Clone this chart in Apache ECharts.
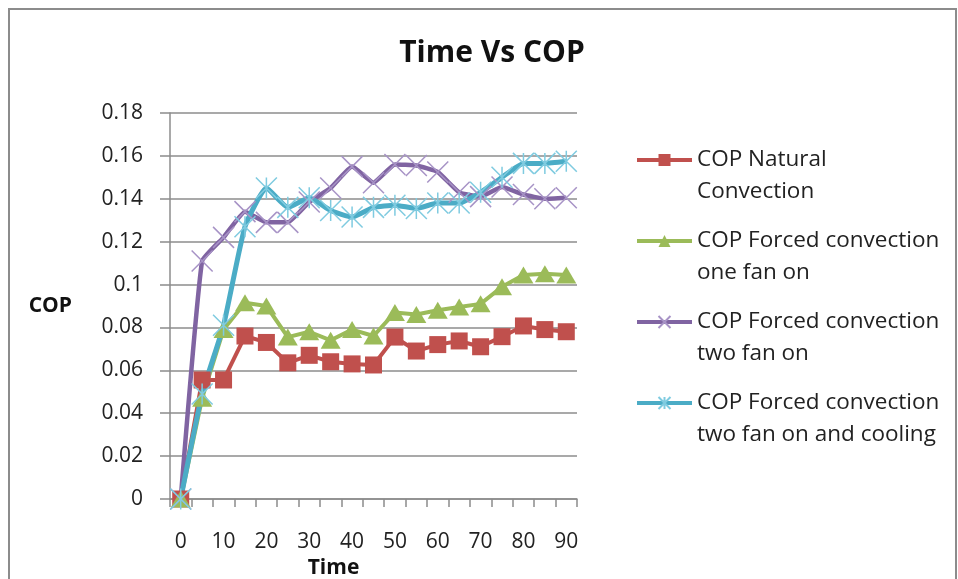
<!DOCTYPE html>
<html>
<head>
<meta charset="utf-8">
<script src="https://cdn.jsdelivr.net/npm/echarts@6/dist/echarts.min.js"></script>
<style>
  html, body { margin: 0; padding: 0; background: #fff; overflow: hidden; }
  #frame { position: absolute; left: 8px; top: 8px; width: 945px; height: 600px; border: 2px solid #8c8c8c; border-bottom: none; }
  #main { position: absolute; left: 0; top: 0; width: 958px; height: 579px; }
</style>
</head>
<body>
<div id="frame"></div>
<div id="main"></div>
<script>
  // time in minutes
  var times = ['0', '5', '10', '15', '20', '25', '30', '35', '40', '45', '50', '55', '60', '65', '70', '75', '80', '85', '90'];
  var yTicks = [0, 0.02, 0.04, 0.06, 0.08, 0.1, 0.12, 0.14, 0.16, 0.18];

  var copNatural = [0, 0.0555, 0.0555, 0.076, 0.073, 0.0635, 0.067, 0.064, 0.063, 0.0625, 0.0755, 0.069, 0.072, 0.0737, 0.071, 0.0757, 0.0807, 0.079, 0.078];
  var copOneFan = [0, 0.047, 0.079, 0.0915, 0.09, 0.0755, 0.078, 0.074, 0.079, 0.076, 0.087, 0.086, 0.088, 0.0895, 0.091, 0.099, 0.1045, 0.105, 0.1045];
  var copTwoFan = [0, 0.111, 0.122, 0.134, 0.129, 0.129, 0.1385, 0.145, 0.155, 0.1475, 0.156, 0.1555, 0.1525, 0.143, 0.141, 0.1455, 0.142, 0.14, 0.1405];
  var copTwoFanCooling = [0, 0.049, 0.081, 0.127, 0.145, 0.136, 0.1405, 0.1345, 0.1315, 0.136, 0.137, 0.1355, 0.138, 0.138, 0.143, 0.15, 0.1565, 0.1565, 0.1575];

  var seriesNames = [
    'COP Natural Convection',
    'COP Forced convection one fan on',
    'COP Forced convection two fan on',
    'COP Forced convection two fan on and cooling'
  ];
  // blank first line keeps the icon level with the first text line
  var legendLabels = {
    'COP Natural Convection': ' \nCOP Natural\nConvection',
    'COP Forced convection one fan on': ' \nCOP Forced convection\none fan on',
    'COP Forced convection two fan on': ' \nCOP Forced convection\ntwo fan on',
    'COP Forced convection two fan on and cooling': ' \nCOP Forced convection\ntwo fan on and cooling'
  };

  var crossPath = 'path://M0,0L10,10M10,0L0,10';
  var starPath = 'path://M0,0L10,10M10,0L0,10M5,0L5,10';
  var font = 'Open Sans';

  var myChart = echarts.init(document.getElementById('main'));
  var option = {
    animation: false,
    title: {
      text: 'Time Vs COP',
      left: 487,
      top: 33,
      textAlign: 'center',
      textStyle: { fontFamily: font, fontSize: 30, fontWeight: 'bold', color: '#111' }
    },
    legend: {
      data: seriesNames,
      orient: 'vertical',
      left: 635,
      top: 112,
      padding: 0,
      itemGap: -15,
      itemWidth: 55,
      itemHeight: 15,
      lineStyle: { width: 4 },
      formatter: function (name) { return legendLabels[name]; },
      textStyle: { fontFamily: font, fontSize: 22.5, color: '#222', lineHeight: 32 }
    },
    grid: { left: 170, right: 381, top: 113, bottom: 80, outerBoundsMode: 'none' },
    xAxis: {
      type: 'category',
      data: times,
      boundaryGap: true,
      name: 'Time',
      nameLocation: 'middle',
      nameGap: 56,
      nameTextStyle: { fontFamily: font, fontSize: 21, fontWeight: 'bold', color: '#111', padding: [0, 80, 0, 0] },
      axisLine: { lineStyle: { color: '#8c8c8c', width: 1.5 } },
      axisTick: { show: true, length: 8, interval: 0, lineStyle: { color: '#8c8c8c', width: 1.5 } },
      axisLabel: { interval: 1, margin: 33, fontFamily: font, fontSize: 21, color: '#222' }
    },
    yAxis: {
      type: 'value',
      min: yTicks[0],
      max: yTicks[yTicks.length - 1],
      interval: 0.02,
      name: 'COP',
      nameLocation: 'middle',
      nameRotate: 0,
      nameGap: 98,
      nameTextStyle: { fontFamily: font, fontSize: 21, fontWeight: 'bold', color: '#111' },
      axisLine: { show: true, lineStyle: { color: '#8c8c8c', width: 1.5 } },
      axisTick: { show: true, length: 10, lineStyle: { color: '#8c8c8c', width: 1.5 } },
      splitLine: { lineStyle: { color: '#8c8c8c', width: 1.5 } },
      axisLabel: {
        margin: 27, fontFamily: font, fontSize: 21, color: '#222',
        formatter: function (v) { return String(+v.toFixed(2)); }
      }
    },
    series: [
      {
        name: seriesNames[0], type: 'line', data: copNatural,
        symbol: 'rect', symbolSize: 17, showAllSymbol: true,
        lineStyle: { color: '#C0504D', width: 4 },
        itemStyle: { color: '#C0504D' }
      },
      {
        name: seriesNames[1], type: 'line', data: copOneFan,
        symbol: 'triangle', symbolSize: [20, 17], showAllSymbol: true,
        lineStyle: { color: '#9BBB59', width: 4 },
        itemStyle: { color: '#9BBB59' }
      },
      {
        name: seriesNames[2], type: 'line', data: copTwoFan,
        symbol: crossPath, symbolSize: 21, smooth: 0.12, showAllSymbol: true,
        lineStyle: { color: '#8064A2', width: 4.5 },
        itemStyle: { color: '#8064A2', borderColor: '#A793C6', borderWidth: 1.5 }
      },
      {
        name: seriesNames[3], type: 'line', data: copTwoFanCooling,
        symbol: starPath, symbolSize: 21, smooth: 0.15, showAllSymbol: true,
        lineStyle: { color: '#4BACC6', width: 5 },
        itemStyle: { color: '#4BACC6', borderColor: '#7FCBE0', borderWidth: 1.5 }
      }
    ]
  };
  myChart.setOption(option);
</script>
</body>
</html>
